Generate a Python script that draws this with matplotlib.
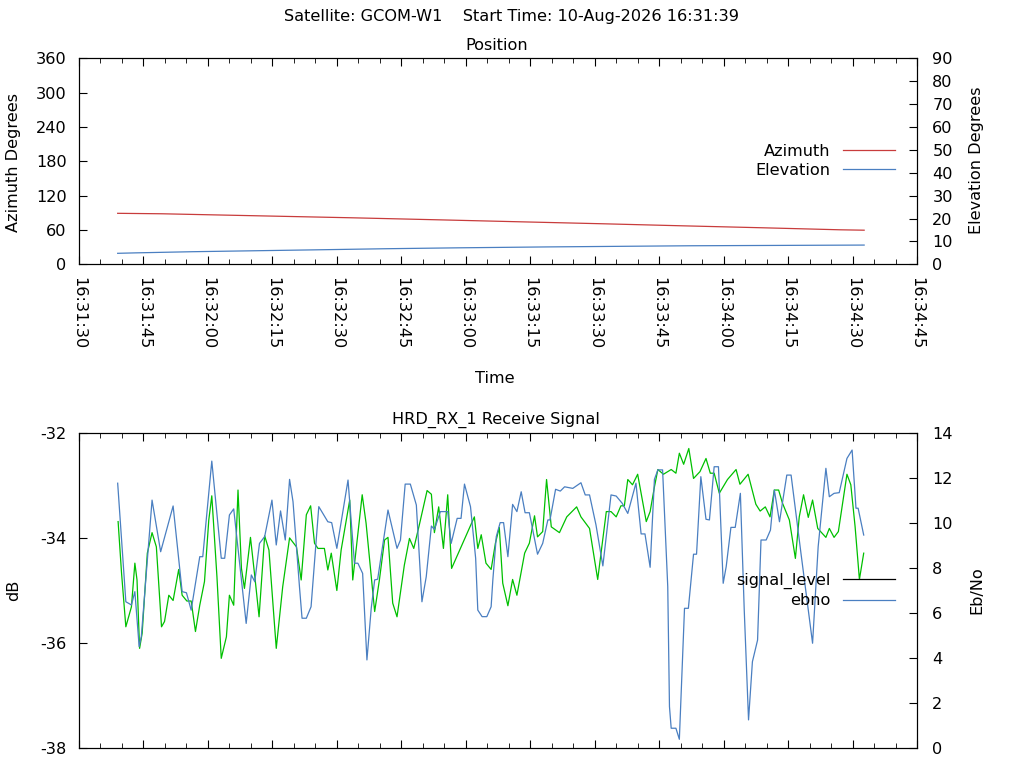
import datetime as dt
import matplotlib
matplotlib.use("Agg")
import matplotlib.pyplot as plt
import matplotlib.dates as mdates
from matplotlib.lines import Line2D

plt.rcParams['font.family'] = 'DejaVu Sans'
plt.rcParams['font.size'] = 11.6
plt.rcParams['axes.unicode_minus'] = False

# pass start, all offsets below are seconds after this
start = dt.datetime(2026, 8, 10, 16, 31, 39)

# position
t_az = [0.0, 10.3, 32.3, 54.4, 74.3, 93.5, 113.0, 131.2, 150.2, 168.1, 173.7]
azimuth = [89.1, 88.3, 84.8, 81.3, 77.8, 74.3, 70.8, 67.3, 63.8, 60.3, 59.6]
t_el = [0.0, 4.3, 17.4, 31.3, 45.4, 62.3, 79.3, 100.2, 133.3, 173.7]
elevation = [4.8, 5.0, 5.5, 5.9, 6.3, 6.8, 7.2, 7.6, 8.1, 8.4]

# receive signal, dB
t_sig = [0.1, 0.9, 1.9, 3.2, 4.0, 4.5, 5.1, 5.7, 6.9, 8.0,
         9.0, 10.2, 10.9, 11.9, 12.9, 14.2, 15.0, 16.1, 17.1, 18.1,
         19.1, 20.2, 21.2, 21.9, 23.1, 24.1, 25.3, 26.0, 27.0, 28.0,
         28.8, 29.5, 30.9, 32.0, 32.9, 34.2, 35.2, 36.9, 38.4, 40.0,
         41.6, 42.7, 43.9, 44.9, 45.8, 46.6, 48.1, 48.9, 49.7, 51.0,
         52.0, 54.0, 54.7, 56.9, 57.8, 59.8, 60.9, 62.1, 62.9, 64.0,
         65.0, 66.7, 67.9, 68.9, 70.2, 72.0, 73.0, 73.7, 74.7, 75.8,
         76.8, 77.7, 83.0, 83.8, 84.6, 85.7, 86.9, 87.9, 88.8, 89.6,
         90.8, 91.9, 92.9, 94.7, 95.8, 97.0, 97.7, 98.9, 99.8, 100.9,
         102.8, 104.5, 106.8, 107.8, 109.8, 111.7, 113.7, 114.8, 116.0, 117.1,
         117.9, 118.7, 119.8, 121.0, 123.0, 123.9, 124.9, 125.7, 127.0, 128.8,
         129.9, 130.7, 131.7, 132.9, 134.0, 135.5, 136.9, 137.9, 138.8, 140.0,
         141.9, 143.9, 144.8, 146.7, 148.5, 149.5, 150.7, 151.8, 152.8, 153.8,
         154.7, 156.3, 157.7, 158.6, 159.6, 160.7, 161.7, 162.9, 164.8, 165.6,
         166.7, 167.7, 169.7, 170.6, 171.6, 172.6, 173.6]
signal_level = [-33.69, -34.67, -35.69, -35.31, -34.48, -34.80, -36.10, -35.81, -34.29, -33.90,
                -34.17, -35.69, -35.59, -35.09, -35.19, -34.60, -35.09, -35.20, -35.20, -35.78,
                -35.28, -34.83, -33.66, -33.20, -34.74, -36.29, -35.88, -35.09, -35.28, -33.09,
                -34.58, -34.96, -33.99, -34.80, -35.50, -33.96, -34.23, -36.10, -34.93, -34.00,
                -34.17, -34.80, -33.56, -33.39, -34.10, -34.20, -34.20, -34.61, -34.29, -35.00,
                -34.23, -33.28, -34.80, -33.18, -33.72, -35.40, -34.80, -34.04, -33.99, -35.24,
                -35.50, -34.52, -34.01, -34.20, -33.75, -33.10, -33.17, -33.90, -33.41, -34.20,
                -33.18, -34.58, -33.60, -34.20, -33.94, -34.48, -34.60, -34.10, -33.80, -34.86,
                -35.29, -34.79, -35.09, -34.29, -34.10, -33.58, -33.98, -33.88, -32.89, -33.79,
                -33.90, -33.60, -33.41, -33.60, -33.82, -34.79, -33.50, -33.50, -33.60, -33.39,
                -33.39, -32.89, -32.99, -32.79, -33.69, -33.50, -33.03, -32.70, -32.79, -32.70,
                -32.77, -32.39, -32.60, -32.30, -32.87, -32.74, -32.49, -32.77, -32.77, -33.15,
                -32.89, -32.70, -32.98, -32.79, -33.36, -33.49, -33.41, -33.60, -33.09, -33.09,
                -33.34, -33.66, -34.39, -33.60, -33.18, -33.61, -33.28, -33.82, -33.99, -33.82,
                -33.99, -33.88, -32.79, -32.99, -33.79, -34.79, -34.29]

# Eb/No
t_ebno = [0.0, 1.9, 3.2, 4.0, 5.0, 5.5, 8.0, 10.0, 12.9, 15.0,
          16.0, 17.1, 19.1, 19.8, 21.9, 24.1, 24.9, 26.0, 27.0, 29.9,
          31.1, 31.9, 33.0, 34.2, 35.9, 36.9, 37.9, 39.0, 40.0, 40.8,
          42.3, 42.9, 43.9, 45.0, 46.8, 48.9, 49.8, 51.0, 53.6, 55.1,
          55.9, 57.0, 58.0, 59.0, 59.8, 60.5, 62.9, 65.0, 65.8, 66.9,
          68.1, 69.5, 70.8, 71.8, 73.0, 73.7, 75.1, 76.8, 77.6, 79.0,
          79.9, 80.7, 82.1, 83.3, 83.8, 84.8, 85.9, 86.9, 87.3, 88.1,
          89.0, 89.8, 90.8, 91.9, 92.9, 93.9, 94.8, 95.8, 97.7, 98.9,
          100.1, 100.6, 101.9, 103.0, 104.0, 105.9, 107.8, 108.8, 109.8, 111.3,
          112.9, 114.8, 116.0, 117.4, 118.7, 120.6, 121.8, 122.7, 123.9, 124.9,
          125.7, 126.8, 128.0, 128.4, 128.8, 129.9, 130.7, 131.9, 132.8, 134.0,
          134.7, 135.7, 136.9, 137.7, 138.8, 139.8, 140.9, 141.6, 142.7, 143.7,
          144.9, 145.8, 146.8, 147.7, 148.9, 149.7, 150.9, 151.9, 152.8, 154.0,
          155.7, 156.7, 159.0, 161.7, 163.0, 164.8, 165.6, 166.7, 167.9, 169.7,
          170.9, 171.8, 172.3, 173.6]
ebno = [11.76, 6.50, 6.36, 6.95, 4.51, 4.95, 11.01, 8.72, 10.75, 6.95,
        6.90, 6.13, 8.50, 8.50, 12.74, 8.43, 8.43, 10.35, 10.62, 5.54,
        7.69, 7.39, 9.09, 9.39, 11.01, 9.02, 10.53, 9.24, 11.93, 10.94,
        7.17, 5.77, 5.77, 6.28, 10.72, 10.05, 10.01, 8.87, 11.90, 8.21,
        8.21, 7.76, 3.92, 6.21, 7.47, 7.50, 10.57, 8.87, 9.24, 11.72,
        11.72, 10.79, 6.50, 7.61, 9.86, 9.71, 10.50, 10.50, 9.09, 10.20,
        10.20, 11.72, 10.72, 8.43, 6.13, 5.84, 5.84, 6.28, 7.47, 9.39,
        10.01, 10.01, 8.50, 10.82, 10.50, 11.38, 10.45, 10.45, 8.61, 9.09,
        10.13, 10.13, 11.49, 11.41, 11.60, 11.53, 11.78, 11.24, 11.24, 9.91,
        8.09, 11.24, 11.19, 10.87, 10.42, 11.76, 9.51, 9.51, 8.03, 11.93,
        12.35, 12.35, 7.17, 1.85, 0.89, 0.89, 0.40, 6.21, 6.21, 8.61,
        8.61, 12.05, 10.16, 10.13, 12.49, 12.49, 7.32, 8.06, 9.80, 9.80,
        11.31, 6.13, 1.26, 3.84, 4.80, 9.24, 9.24, 9.68, 11.46, 10.05,
        12.12, 12.12, 8.65, 4.66, 8.94, 12.42, 11.16, 11.31, 11.34, 12.86,
        13.23, 10.65, 10.65, 9.46]

RED = '#c83c3c'
BLUE = '#4a7fc1'
GREEN = '#00c000'


def to_times(offsets):
    return [start + dt.timedelta(seconds=s) for s in offsets]


x_min = dt.datetime(2026, 8, 10, 16, 31, 30)
x_max = dt.datetime(2026, 8, 10, 16, 34, 45)

W, H = 1024, 768
fig = plt.figure(figsize=(10.24, 7.68), dpi=100)


def style_x(ax, labels):
    ax.set_xlim(x_min, x_max)
    ax.xaxis.set_major_locator(mdates.SecondLocator(bysecond=[0, 15, 30, 45]))
    ax.xaxis.set_minor_locator(mdates.SecondLocator(bysecond=range(0, 60, 5)))
    ax.xaxis.set_major_formatter(mdates.DateFormatter('%H:%M:%S'))
    ax.tick_params(axis='x', which='both', direction='in', top=True, bottom=True,
                   labelbottom=labels, pad=9)
    ax.tick_params(axis='x', which='major', length=6)
    ax.tick_params(axis='x', which='minor', length=3.5)
    if labels:
        for lab in ax.get_xticklabels():
            lab.set_rotation(-90)


def style_y(ax, axr):
    ax.tick_params(axis='y', direction='in', left=True, right=False, length=6, pad=9)
    axr.tick_params(axis='y', direction='in', left=False, right=True, length=6, pad=11)


# ---- Position ----
ax1 = fig.add_axes([79 / W, 1 - 264.3 / H, 838 / W, 206 / H])
ax1r = ax1.twinx()
l_az, = ax1.plot(to_times(t_az), azimuth, color=RED, lw=0.9)
l_el, = ax1r.plot(to_times(t_el), elevation, color=BLUE, lw=0.9)
ax1.set_ylim(0, 360)
ax1.set_yticks(range(0, 361, 60))
ax1r.set_ylim(0, 90)
ax1r.set_yticks(range(0, 91, 10))
style_x(ax1, True)
style_y(ax1, ax1r)
ax1r.legend([l_az, l_el], ['Azimuth', 'Elevation'], loc='upper right',
            bbox_to_anchor=(895 / W, 1 - 144 / H), bbox_transform=fig.transFigure,
            frameon=False, markerfirst=False, handlelength=3.2, handletextpad=0.8,
            borderpad=0, borderaxespad=0, labelspacing=0.25)

# ---- Receive signal ----
ax2 = fig.add_axes([79 / W, 1 - 748.3 / H, 838 / W, 315.6 / H])
ax2r = ax2.twinx()
ax2.plot(to_times(t_sig), signal_level, color=GREEN, lw=0.9)
l_eb, = ax2r.plot(to_times(t_ebno), ebno, color=BLUE, lw=0.9)
ax2.set_ylim(-38, -32)
ax2.set_yticks([-38, -36, -34, -32])
ax2r.set_ylim(0, 14)
ax2r.set_yticks(range(0, 15, 2))
style_x(ax2, False)
style_y(ax2, ax2r)
sig_handle = Line2D([], [], color='black', lw=0.9)
ax2r.legend([sig_handle, l_eb], ['signal_level', 'ebno'], loc='upper right',
            bbox_to_anchor=(895 / W, 1 - 573 / H), bbox_transform=fig.transFigure,
            frameon=False, markerfirst=False, handlelength=3.2, handletextpad=0.8,
            borderpad=0, borderaxespad=0, labelspacing=0.25)

# ---- texts ----
def ftext(x, y, s, **kw):
    fig.text(x / W, 1 - y / H, s, ha='center', va='center', **kw)


ftext(511, 17, 'Satellite: GCOM-W1    Start Time: 10-Aug-2026 16:31:39')
ftext(497, 46, 'Position')
ftext(496, 420, 'HRD_RX_1 Receive Signal')
ftext(495, 379, 'Time')
ftext(14, 162, 'Azimuth Degrees', rotation=90)
ftext(977, 160, 'Elevation Degrees', rotation=90)
ftext(14, 590, 'dB', rotation=90)
ftext(977, 590, 'Eb/No', rotation=90)

fig.savefig('out.png', dpi=100)
